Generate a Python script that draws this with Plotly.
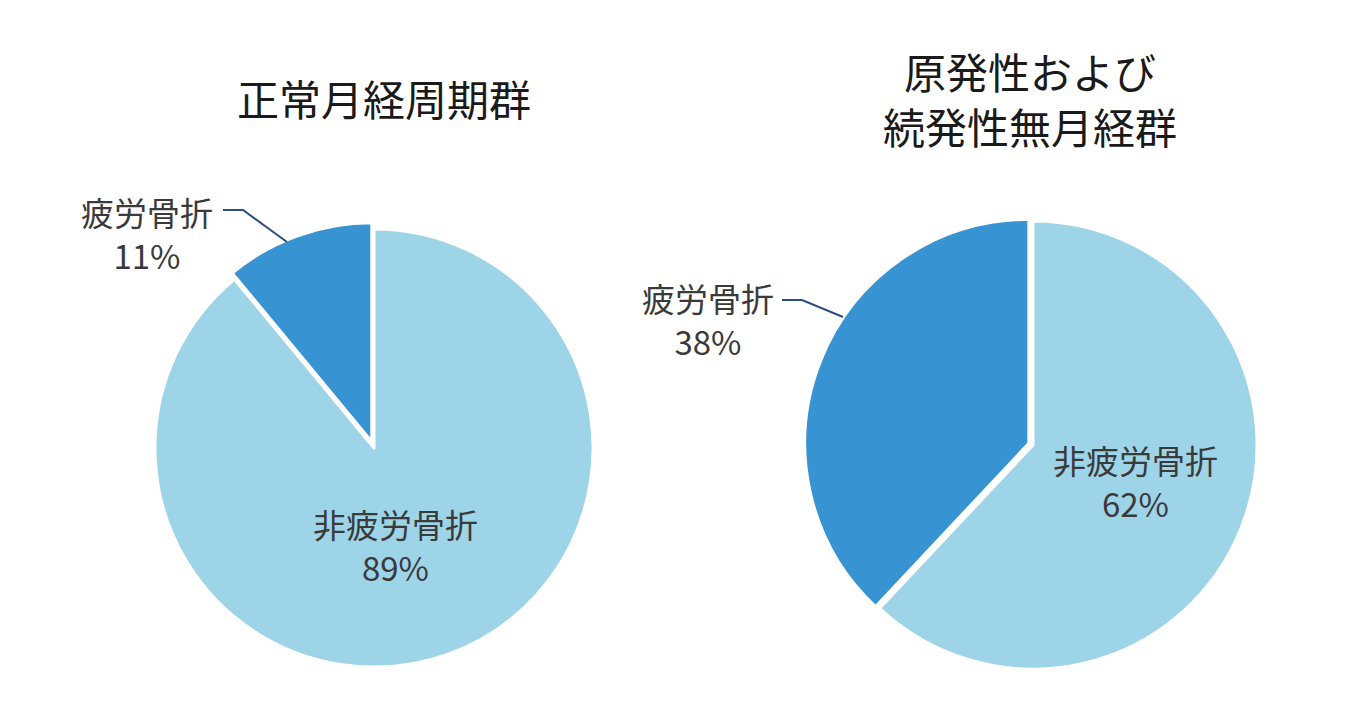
import plotly.graph_objects as go

# Data (non-fracture first so the fracture slice sits left of 12 o'clock)
labels = ["非疲労骨折", "疲労骨折"]
normal_vals = [89, 11]        # 正常月経周期群
amen_vals = [62, 38]          # 原発性および続発性無月経群
titles = ["正常月経周期群", "原発性および<br>続発性無月経群"]

colors = ["#9dd4e8", "#3893d3"]
W, H = 1350, 715
OFF = 8  # page margin in the screenshot
FONT = "Noto Sans CJK JP"


def px(x):
    return (x - OFF) / W


def py(y):
    return 1 - (y - OFF) / H


fig = go.Figure()

fig.add_trace(go.Pie(
    labels=labels, values=normal_vals, sort=False, direction="clockwise",
    rotation=0, pull=[0, 0.03], textinfo="none", hoverinfo="label+percent",
    marker=dict(colors=colors, line=dict(color="white", width=3)),
    domain=dict(x=[px(148.4), px(599.6)], y=[py(673.6), py(222.4)]),
    showlegend=False,
))

fig.add_trace(go.Pie(
    labels=labels, values=amen_vals, sort=False, direction="clockwise",
    rotation=0, pull=[0, 0.02], textinfo="none", hoverinfo="label+percent",
    marker=dict(colors=colors, line=dict(color="white", width=3)),
    domain=dict(x=[px(804.5), px(1261.5)], y=[py(673.5), py(216.5)]),
    showlegend=False,
))


def note(x, y, text, size, color):
    fig.add_annotation(x=px(x), y=py(y), text=text, showarrow=False,
                       xanchor="center", yanchor="middle",
                       font=dict(family=FONT, size=size, color=color))


# titles
note(384, 98, titles[0], 42, "#1a1a1a")
note(1030, 98, titles[1], 42, "#1a1a1a")

# slice labels
lab_col = "#3a3a3a"
note(147, 234, f"{labels[1]}<br>{normal_vals[1]}%", 33, lab_col)
note(395, 545, f"{labels[0]}<br>{normal_vals[0]}%", 33, lab_col)
note(708, 320, f"{labels[1]}<br>{amen_vals[1]}%", 33, lab_col)
note(1135, 482, f"{labels[0]}<br>{amen_vals[0]}%", 33, lab_col)

# leader lines
line_col = "#2b4f7e"
for pts in [[(223, 210), (243, 210), (287, 242)],
            [(782, 300), (802, 300), (843, 317)]]:
    path = "M " + " L ".join(f"{px(a)},{py(b)}" for a, b in pts)
    fig.add_shape(type="path", path=path, xref="paper", yref="paper",
                  line=dict(color=line_col, width=2))

fig.update_layout(
    width=W, height=H,
    margin=dict(l=0, r=0, t=0, b=0),
    paper_bgcolor="white", plot_bgcolor="white",
    font=dict(family=FONT),
)

fig.write_html("out.html")
